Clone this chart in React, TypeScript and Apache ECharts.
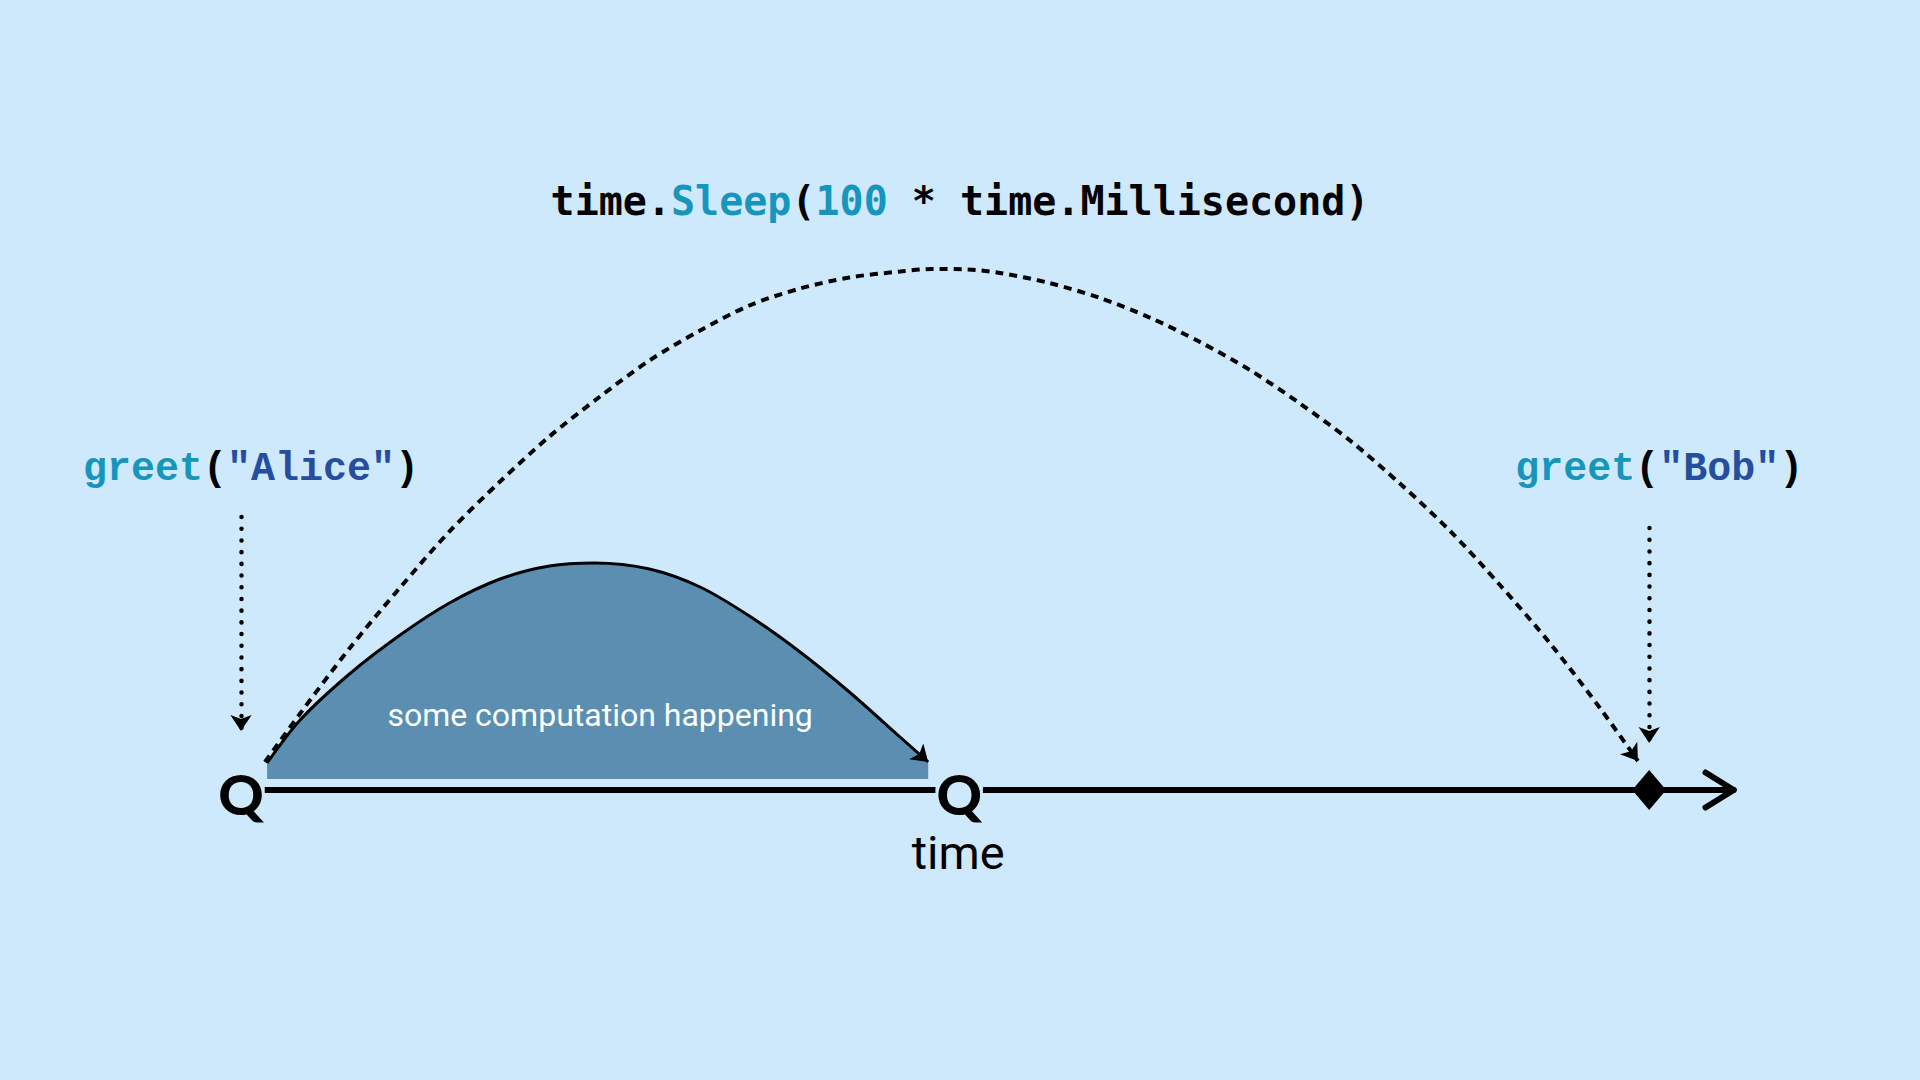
import { useEffect, useRef } from 'react'
import * as echarts from 'echarts'

// moments on the timeline, in ms
const eventTimes = [0, 51, 100] // Alice starts, computation done, Bob starts
const callArgs = ['Alice', 'Bob']
const callTimes = [0, 100]
const sleepMs = 100
const axisEnd = 106

// the computation blob between the two Q marks: t (ms) / height
const workT = [1.85, 4.2, 7.7, 11.3, 14.8, 18.4, 21.9, 25.1, 29, 32.6, 36.1, 39.7, 43.2, 46.8, 48.8]
const workH = [5.4, 14, 23.2, 31, 37.4, 42.2, 44.8, 45.4, 44.2, 40.6, 34.8, 27.6, 19.6, 10.6, 5.6]

// the Sleep jump from Alice over to Bob
const sleepT = [1.7, 4.2, 7.7, 11.3, 14.8, 18.4, 21.9, 25.5, 29, 32.6, 36.1, 39.7, 43.2, 46.8, 49.1, 51.6, 53.9, 57.4, 61, 64.6, 68.1, 71.7, 75.2, 78.8, 82.3, 85.9, 89.4, 93, 96.5, 99.2]
const sleepH = [5.6, 15.3, 28.3, 40.5, 51.7, 61.7, 70.7, 78.7, 85.9, 91.9, 96.9, 100.3, 102.5, 103.7, 104.2, 104.1, 103.4, 101.4, 98.4, 94.4, 89.6, 83.9, 77.3, 69.8, 61.3, 51.7, 41, 29.2, 16.4, 5.8]

const BG = '#cfe9fc'
const TEAL = '#1796bd'
const NAVY = '#244ea0'
const INK = '#000000'
const FILL = '#5b8fb1'

// layout (heights in axis units)
const CALL_LABEL_H = 64.2
const CALLOUT_TOP = [54.6, 52.4]
const CALLOUT_TIP = [11.8, 9.4]
const WORK_BASE = 2.2
const WORK_LABEL_H = 15

const pair = (t: number[], h: number[]) => t.map((v, i) => [v, h[i]])
const lastTwo = (pts: number[][]) => pts.slice(-2)

const mono = { fontFamily: 'Liberation Mono', fontWeight: 'bold' as const, fontSize: 40, lineHeight: 44 }
const titleMono = { fontFamily: 'DejaVu Sans Mono', fontWeight: 'bold' as const, fontSize: 40, lineHeight: 40 }
const hidden = { color: 'rgba(0,0,0,0)', opacity: 1 }

export default function App() {
  const chartRef = useRef<HTMLDivElement>(null)

  useEffect(() => {
    if (!chartRef.current) return
    const chart = echarts.init(chartRef.current, null, { renderer: 'svg' })

    const work = pair(workT, workH)
    const sleep = pair(sleepT, sleepH)

    const option: any = {
      animation: false,
      backgroundColor: BG,
      title: {
        text: `{k|time.}{h|Sleep}{k|(}{h|${sleepMs}}{k| * time.Millisecond)}`,
        left: 'center',
        top: 181,
        padding: 0,
        textStyle: {
          rich: {
            k: { ...titleMono, color: INK },
            h: { ...titleMono, color: TEAL }
          }
        }
      },
      grid: { left: 241, right: 130, top: 240, bottom: 290 },
      xAxis: { type: 'value', min: 0, max: 110, show: false },
      yAxis: { type: 'value', min: 0, max: 110, show: false },
      series: [
        {
          name: 'timeline',
          type: 'line',
          data: [[eventTimes[0], 0], [axisEnd, 0]],
          symbol: 'none',
          clip: false,
          lineStyle: { color: INK, width: 6, cap: 'round' },
          z: 3
        },
        {
          name: 'timeline arrow',
          type: 'line',
          data: [[axisEnd - 2, 3.5], [axisEnd, 0], [axisEnd - 2, -3.5]],
          symbol: 'none',
          clip: false,
          lineStyle: { color: INK, width: 6, cap: 'round', join: 'round' },
          z: 3
        },
        {
          name: 'computation',
          type: 'line',
          data: work,
          smooth: 0.3,
          symbol: 'none',
          clip: false,
          lineStyle: { color: INK, width: 3 },
          areaStyle: { color: FILL, opacity: 1, origin: WORK_BASE },
          z: 2
        },
        {
          name: 'computation end',
          type: 'lines',
          coordinateSystem: 'cartesian2d',
          data: [{ coords: lastTwo(work) }],
          symbol: ['none', 'arrow'],
          symbolSize: 16,
          clip: false,
          lineStyle: { color: INK, width: 0, opacity: 1 },
          z: 4
        },
        {
          name: 'sleep',
          type: 'line',
          data: sleep,
          smooth: 0.3,
          symbol: 'none',
          clip: false,
          lineStyle: { color: INK, width: 4, type: [8, 6] },
          z: 4
        },
        {
          name: 'sleep end',
          type: 'lines',
          coordinateSystem: 'cartesian2d',
          data: [{ coords: lastTwo(sleep) }],
          symbol: ['none', 'arrow'],
          symbolSize: 16,
          clip: false,
          lineStyle: { color: INK, width: 0, opacity: 1 },
          z: 4
        },
        {
          name: 'callouts',
          type: 'lines',
          coordinateSystem: 'cartesian2d',
          data: callTimes.map((t, i) => ({ coords: [[t, CALLOUT_TOP[i]], [t, CALLOUT_TIP[i]]] })),
          symbol: ['none', 'arrow'],
          symbolSize: 16,
          clip: false,
          lineStyle: { color: INK, width: 4.5, type: [0.1, 11.6], cap: 'round', opacity: 1 },
          z: 4
        },
        {
          name: 'goroutine',
          type: 'scatter',
          data: [[eventTimes[0], 0], [eventTimes[1], 0]],
          symbolSize: 1,
          clip: false,
          itemStyle: hidden,
          label: {
            show: true,
            position: 'inside',
            formatter: 'Q',
            offset: [0, 3],
            fontFamily: 'Lato',
            fontWeight: 900,
            fontSize: 56,
            lineHeight: 18,
            color: INK,
            backgroundColor: BG,
            padding: [0, 1]
          },
          z: 5
        },
        {
          name: 'Bob',
          type: 'scatter',
          data: [[eventTimes[2], 0]],
          symbol: 'diamond',
          symbolSize: [34, 40],
          clip: false,
          itemStyle: { color: INK, opacity: 1 },
          z: 5
        },
        {
          name: 'axis name',
          type: 'scatter',
          data: [[eventTimes[1], 0]],
          symbolSize: 1,
          clip: false,
          itemStyle: hidden,
          label: {
            show: true,
            position: 'inside',
            formatter: 'time',
            offset: [-1, 62],
            fontFamily: 'Roboto',
            fontSize: 47,
            color: INK
          }
        },
        {
          name: 'computation label',
          type: 'scatter',
          data: [[(eventTimes[0] + eventTimes[1]) / 2, WORK_LABEL_H]],
          symbolSize: 1,
          clip: false,
          itemStyle: hidden,
          label: {
            show: true,
            position: 'inside',
            formatter: 'some computation happening',
            fontFamily: 'Roboto',
            fontSize: 32,
            color: '#ffffff'
          },
          z: 6
        },
        {
          name: 'calls',
          type: 'scatter',
          data: callTimes.map(t => [t, CALL_LABEL_H]),
          symbolSize: 1,
          clip: false,
          itemStyle: hidden,
          label: {
            show: true,
            position: 'inside',
            offset: [10, 0],
            formatter: (p: any) => `{fn|greet}{k|(}{s|"${callArgs[p.dataIndex]}"}{k|)}`,
            rich: {
              fn: { ...mono, color: TEAL },
              k: { ...mono, color: INK },
              s: { ...mono, color: NAVY }
            }
          }
        }
      ]
    }

    chart.setOption(option)

    return () => {
      chart.dispose()
    }
  }, [])

  return (
    <div
      ref={chartRef}
      style={{ position: 'fixed', left: 0, top: 0, width: '1920px', height: '1080px' }}
    />
  )
}
